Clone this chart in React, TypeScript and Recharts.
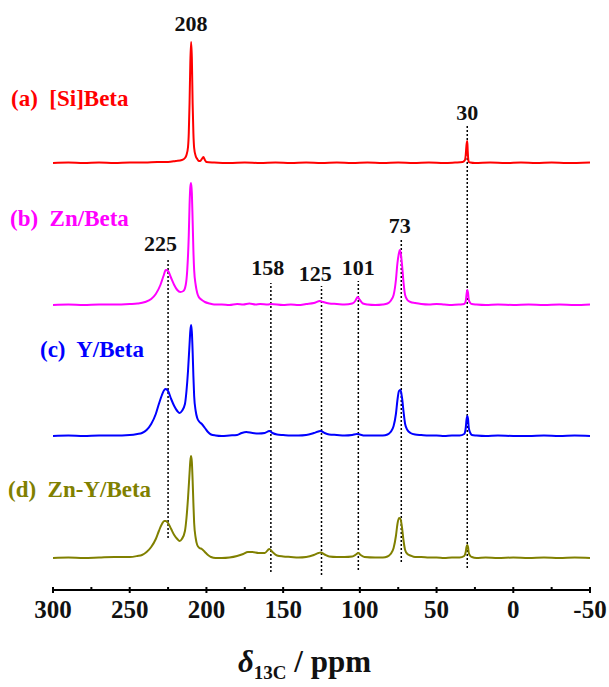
import { LineChart, Line, XAxis, YAxis, ReferenceLine, ReferenceDot } from "recharts";

// ppm positions and intensities (intensity above its own baseline)
const ppmA = [300, 290, 280, 270, 260, 250, 240, 232, 225, 220, 216, 214, 213, 212, 211.5, 211, 210.5, 210, 209.5, 209, 208.5, 208, 207, 206, 205, 204, 203, 202, 201, 200, 195, 185, 175, 165, 155, 145, 135, 125, 115, 105, 95, 85, 75, 65, 55, 45, 38, 33, 31.5, 31, 30.5, 30, 29.7, 29.3, 29, 28, 25, 15, 5, -5, -15, -25, -35, -50];
const intA = [0, 0.5, 0, 0.5, 0, 0.5, 0.5, 1, 1, 2, 3, 5, 8, 16, 30, 60, 100, 121, 105, 60, 30, 15, 7, 4, 2, 2, 4, 6, 3, 1, 0.5, 0, 0.5, 0, 0.5, 0, 0.5, 0, 0.5, 0, 0.5, 0, 0.5, 0, 0.5, 0, 0.5, 1, 3, 8, 18, 22, 12, 3, 1, 0.5, 0, 0.5, 0, 0.5, 0, 0.5, 0, 0.5];

const ppmB = [300, 290, 280, 270, 260, 250, 245, 240, 236, 233, 230, 228, 226.5, 225, 223, 221, 219, 217, 215, 213.5, 212.5, 211.5, 211, 210.5, 210, 209.5, 209, 208.5, 208, 207, 206, 205, 203, 201, 198, 195, 190, 185, 180, 176, 172, 168, 165, 160, 158, 150, 145, 140, 135, 130, 126, 124, 120, 115, 110, 105, 103, 101.5, 100, 98, 95, 90, 85, 82, 80, 78, 76.5, 75.5, 74.5, 74, 73.5, 72.5, 71.5, 70.5, 69, 67, 64, 60, 55, 50, 45, 40, 35, 32, 31, 30.5, 30, 29.5, 29, 28, 27, 24, 18, 10, 0, -10, -20, -30, -40, -50];
const intB = [0, 0.5, 0, 0.5, 0.5, 1, 1.5, 3, 6, 11, 20, 29, 35, 34, 27, 20, 15, 13, 14, 20, 35, 70, 100, 118, 122, 112, 85, 55, 35, 20, 12, 8, 5, 3, 1.5, 0.5, 0.5, 0, 1, 0.5, 1.5, 0.5, 1, 0.5, 1, 0, 0.5, 0, 1, 2, 4, 3, 1.5, 1, 0.5, 1.5, 4, 8, 5, 1.5, 0.5, 0, 0.5, 1.5, 4, 10, 25, 42, 52, 55, 53, 40, 22, 10, 5, 3, 2, 1, 0.5, 1, 0.5, 0, 0.5, 1, 4, 10, 15, 12, 5, 2, 1, 0.5, 0, 0.5, 0, 0.5, 0, 0.5, 0, 0.5];

const ppmC = [300, 290, 280, 270, 260, 250, 245, 242, 239, 236, 233, 231, 229, 227.5, 226.5, 225, 223, 221, 219, 217.5, 216, 214, 213, 212, 211, 210.5, 210, 209.5, 209, 208.5, 208, 207, 206, 204.5, 203, 201, 199, 197, 194, 190, 185, 180, 177, 174, 170, 166, 162, 159, 157, 154, 150, 145, 140, 135, 130, 127, 125.5, 123, 120, 115, 110, 105, 102, 100, 97, 90, 85, 82, 80, 78, 76.5, 75.5, 74.5, 73.5, 72.5, 71.5, 70.5, 69, 67, 64, 60, 55, 50, 45, 40, 35, 32, 31, 30.5, 30, 29.5, 29, 28, 27, 24, 18, 10, 0, -10, -20, -30, -40, -50];
const intC = [0, 0.5, 0, 0.5, 0.5, 1, 2, 3, 6, 12, 22, 32, 41, 46, 47, 45, 37, 30, 25, 23, 25, 32, 45, 65, 92, 105, 111, 104, 85, 60, 40, 25, 18, 14, 12, 8, 4, 1.5, 0.5, 0, 0.5, 1, 3, 4, 3, 2.5, 3, 5, 3, 1.5, 1, 0.5, 0.5, 1, 3, 4.5, 5, 3, 1.5, 1, 0.5, 1, 2, 1.5, 0.5, 0.5, 0.5, 1.5, 4, 10, 22, 36, 45, 46, 38, 24, 12, 6, 3, 1.5, 1, 0.5, 0.5, 0, 0.5, 0.5, 2, 8, 16, 20, 17, 8, 3, 1, 0.5, 0, 0.5, 0, 0, 0.5, 0, 0.5, 0];

const ppmD = [300, 290, 280, 270, 260, 250, 245, 242, 239, 236, 233, 231, 229, 227.5, 226.5, 225, 223, 221, 219, 217.5, 216, 214, 213, 212, 211, 210.5, 210, 209.5, 209, 208.5, 208, 207, 206, 204.5, 203, 201, 199, 197, 194, 190, 185, 180, 176, 173, 170, 166, 162, 159, 157, 154, 150, 145, 140, 135, 130, 127, 125.5, 123, 120, 115, 110, 105, 102.5, 101, 99.5, 97, 90, 85, 82, 80, 78, 76.5, 75.5, 74.5, 73.5, 72.5, 71.5, 70.5, 69, 67, 64, 60, 55, 50, 45, 40, 35, 32, 31, 30.5, 30, 29.5, 29, 28, 27, 24, 18, 10, 0, -10, -20, -30, -40, -50];
const intD = [0, 0.5, 0, 0.5, 1, 1, 2, 3, 6, 11, 19, 27, 34, 37, 37, 35, 29, 23, 19, 17, 19, 27, 40, 60, 85, 97, 102, 96, 78, 55, 35, 20, 13, 10, 9, 6, 3, 1, 0, 0, 0.5, 2, 4, 6, 6, 5, 5, 9, 6, 2.5, 1.5, 1, 0.5, 1, 3, 5, 5.5, 3.5, 1.5, 1, 1, 1.5, 3.5, 5, 3, 1, 0.5, 0.5, 1.5, 4, 10, 22, 34, 40, 39, 30, 17, 8, 4, 2.5, 1, 1, 0.5, 0.5, 0, 0.5, 0.5, 2, 6, 11, 13, 11, 5, 2, 1, 0, 0.5, 0, 0.5, 0, 0.5, 0, 0.5, 0];

const sampleNames = ["(a)  [Si]Beta", "(b)  Zn/Beta", "(c)  Y/Beta", "(d)  Zn-Y/Beta"];
const colors = ["#ff0000", "#ff00ff", "#0000ff", "#808000"];

// marked chemical shifts and their labels
const markPpm = [225, 158, 125, 101, 73, 30];
const markFrom = [52, 18, 15, 20, 28, 22];
const markTo = [332, 307, 304, 309, 350, 464];
const peakLabels = ["208", "30", "225", "158", "125", "101", "73"];
const peakLabelPpm = [210, 30, 230, 160, 129, 101, 74];

const majorTicks = [300, 250, 200, 150, 100, 50, 0, -50];
const minorTicks = [275, 225, 175, 125, 75, 25, -25];

// vertical offset of each trace, in plot units (1 unit = 1px)
const offsets = [427, 285, 154, 32];
const peakLabelLevel = [567, 478, 347, 323, 317, 323, 365];
const sideLabelTop = [99, 219, 350, 490];
const sideLabelLeft = [11, 10, 40, 8];

const traces = [
  [ppmA, intA],
  [ppmB, intB],
  [ppmC, intC],
  [ppmD, intD],
].map(([p, v], i) => p.map((x, k) => ({ x, y: v[k] + offsets[i] })));

const FONT = "'Liberation Serif', 'Times New Roman', serif";

const AxisTick = (props: any) => {
  const { x, y, payload } = props;
  const major = majorTicks.includes(payload.value);
  return (
    <g>
      <line x1={x} x2={x} y1={y - 3} y2={major ? y + 3 : y} stroke="#000" strokeWidth={2} />
      {major && (
        <text x={x} y={y + 28} textAnchor="middle" fontFamily={FONT} fontWeight="bold" fontSize={25} fill="#111">
          {payload.value}
        </text>
      )}
    </g>
  );
};

export default function App() {
  return (
    <div style={{ position: "absolute", left: 0, top: 0, width: 609, height: 687, background: "#fff" }}>
      <LineChart width={609} height={687} margin={{ top: 20, right: 19, bottom: 0, left: 53 }}>
        <XAxis
          dataKey="x"
          type="number"
          domain={[-50, 300]}
          reversed
          allowDataOverflow
          ticks={[...majorTicks, ...minorTicks]}
          interval={0}
          tickSize={0}
          tickMargin={0}
          tickLine={false}
          tick={<AxisTick />}
          axisLine={{ stroke: "#000", strokeWidth: 2 }}
          height={97}
        />
        <YAxis hide type="number" domain={[0, 570]} allowDataOverflow />
        {markPpm.map((p, i) => (
          <ReferenceLine
            key={"m" + p}
            segment={[{ x: p, y: markFrom[i] }, { x: p, y: markTo[i] }]}
            stroke="#000"
            strokeWidth={1.5}
            strokeDasharray="2 2"
          />
        ))}
        {traces.map((d, i) => (
          <Line
            key={sampleNames[i]}
            data={d}
            dataKey="y"
            type="monotone"
            stroke={colors[i]}
            strokeWidth={2}
            dot={false}
            isAnimationActive={false}
          />
        ))}
        {peakLabels.map((t, i) => (
          <ReferenceDot
            key={"l" + t}
            x={peakLabelPpm[i]}
            y={peakLabelLevel[i]}
            r={0}
            shape={(p: any) => (
              <text x={p.cx} y={p.cy} textAnchor="middle" dominantBaseline="central" fontFamily={FONT} fontWeight="bold" fontSize={22} fill="#111">
                {t}
              </text>
            )}
          />
        ))}
      </LineChart>
      {sampleNames.map((n, i) => (
        <div
          key={n}
          style={{
            position: "absolute",
            left: sideLabelLeft[i],
            top: sideLabelTop[i] - 13,
            fontFamily: FONT,
            fontWeight: "bold",
            fontSize: 23,
            lineHeight: "26px",
            color: colors[i],
            whiteSpace: "pre",
          }}
        >
          {n}
        </div>
      ))}
      <div
        style={{
          position: "absolute",
          left: 0,
          width: 609,
          top: 642,
          textAlign: "center",
          fontFamily: FONT,
          fontWeight: "bold",
          fontSize: 31,
          lineHeight: "40px",
          color: "#111",
        }}
      >
        <span style={{ fontStyle: "italic" }}>δ</span>
        <sub style={{ fontSize: 19 }}>13C</sub> / ppm
      </div>
    </div>
  );
}
